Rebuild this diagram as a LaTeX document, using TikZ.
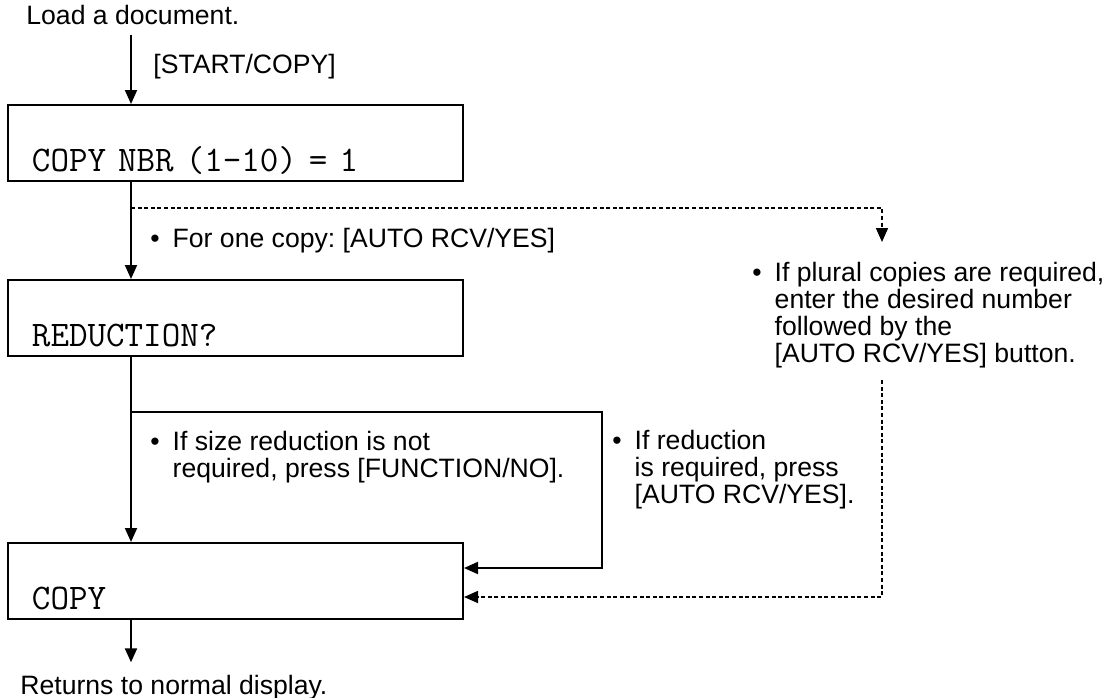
\documentclass[tikz,border=0pt]{standalone}
\usepackage{fontspec}
\setmainfont{Liberation Sans}
\usetikzlibrary{arrows.meta, positioning}

\newcommand{\itembul}{\textbullet\hspace{6.5pt}}

\tikzset{
  box/.style={draw, line width=1pt, font=\fontsize{18}{20}\selectfont\ttfamily,
    text width=203.5pt, align=left, inner xsep=12pt, inner ysep=3pt,
    text height=30pt, text depth=2pt},
  txt/.style={font=\fontsize{13.3}{13.5}\selectfont\frenchspacing, inner sep=0pt, align=left},
  flow/.style={line width=1pt, -{Triangle[length=7pt,width=6pt]}},
  optline/.style={line width=0.8pt, dash pattern=on 2pt off 1.3pt, -{Triangle[length=7pt,width=6pt]}}
}

\begin{document}
\begin{tikzpicture}[x=0.5pt, y=-0.5pt]
\useasboundingbox (0,0) rectangle (1115,697);
\coordinate (spine) at (131,0);

% display boxes
\foreach \name/\ypos/\msg in {copynbr/143/{COPY NBR (1-10) = 1}, reduction/318/{REDUCTION?}, copy/581/{COPY}} {
    \node[box] (\name) at (235.5,\ypos) {\msg};
}

\node[txt, anchor=base west] (load) at (26,24) {Load a document.};
\node[txt, anchor=base west] (startkey) at (153,73) {[START/COPY]};
\node[txt, anchor=base west] (onecopy) at (150,247) {\itembul For one copy: [AUTO RCV/YES]};
\node[txt, anchor=north west] (plural) at (752,262) {\itembul If plural copies are required,\\
  \hphantom{\itembul}enter the desired number\\
  \hphantom{\itembul}followed by the\\
  \hphantom{\itembul}[AUTO RCV/YES] button.};
\node[txt, anchor=north west] (notreq) at (150,431) {\itembul If size reduction is not\\
  \hphantom{\itembul}required, press [FUNCTION/NO].};
\node[txt, anchor=north west] (isreq) at (612,430) {\itembul If reduction\\
  \hphantom{\itembul}is required, press\\
  \hphantom{\itembul}[AUTO RCV/YES].};
\node[txt, anchor=base west] (ret) at (20,694) {Returns to normal display.};

% main flow
\draw[flow, shorten <=5pt] (load.south -| spine) -- (copynbr.north -| spine);
\draw[flow] (copynbr.south -| spine) -- (reduction.north -| spine);
\draw[flow] (reduction.south -| spine) -- (copy.north -| spine);
\draw[flow, shorten >=6pt] (copy.south -| spine) -- (ret.north -| spine);

% reduction required
\coordinate (yesfork) at (131,412);
\coordinate (yescorner) at (602,568);
\draw[flow] (yesfork) -| (yescorner) -- (copy.east |- yescorner);

% plural copies
\coordinate (fork) at (131,208);
\coordinate (pluraltip) at (882,242);
\coordinate (pluralend) at (882,380);
\coordinate (pluralbot) at (882,597);
\draw[optline] (fork) -| (pluraltip);
\draw[optline] (pluralend) |- (copy.east |- pluralbot);
\end{tikzpicture}
\end{document}
